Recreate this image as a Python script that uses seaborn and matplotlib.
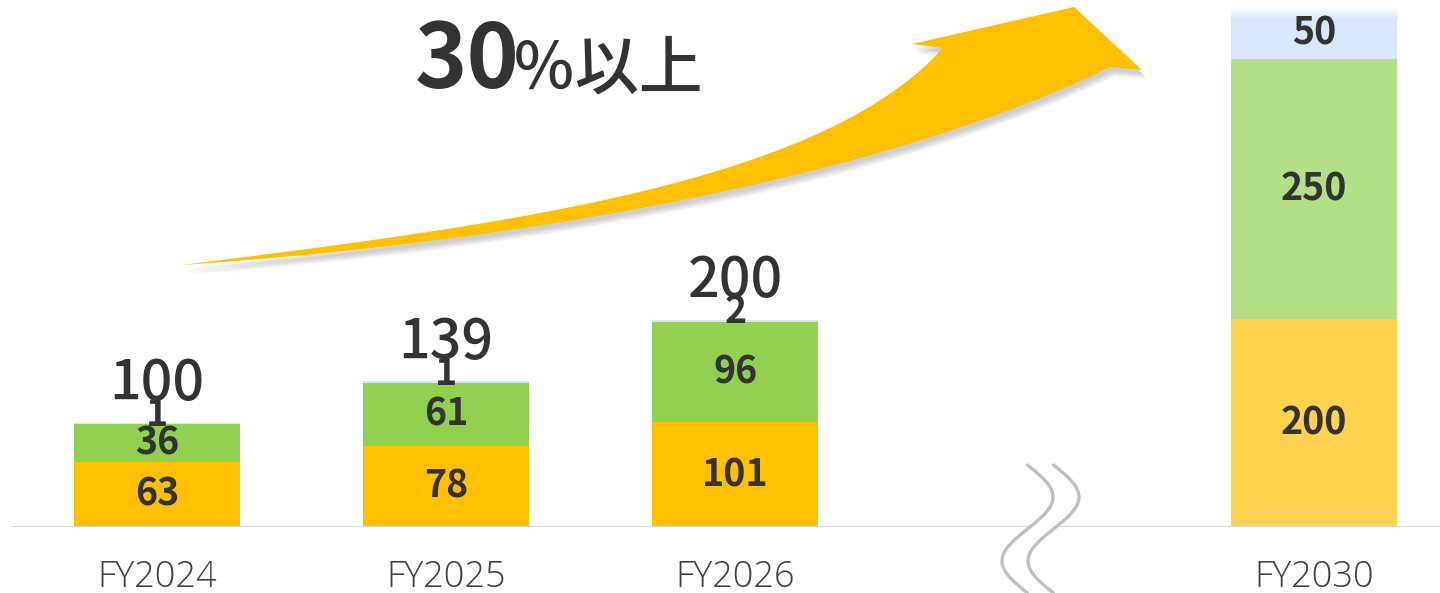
import numpy as np
import pandas as pd
import matplotlib
matplotlib.use("Agg")
from matplotlib import pyplot as plt
from matplotlib.patches import Polygon
import seaborn as sns

# data ###############################################################
years = ["FY2024", "FY2025", "FY2026", "FY2030"]
order = ["FY2024", "FY2025", "FY2026", "", "FY2030"]
base = [63, 78, 101, 200]      # yellow / orange part
mid = [36, 61, 96, 250]        # green part
top = [1, 1, 2, 50]            # light blue part
totals = ["100", "139", "200", None]

orange_cols = ["#FFC000", "#FFC000", "#FFC000", "#FFD34F"]
green_cols = ["#92D050", "#92D050", "#92D050", "#B3DF86"]
blue_cols = ["#DAE3F3", "#DAE3F3", "#DAE3F3", "#DAE6FC"]

df = pd.DataFrame({"year": years, "base": base, "mid": mid, "top": top})
df["c1"] = df["base"]
df["c2"] = df["base"] + df["mid"]
df["c3"] = df["c2"] + df["top"]

sns.set_theme(style="white")
plt.rcParams["font.family"] = ["Noto Sans CJK JP", "DejaVu Sans"]

W, H = 1440, 593
fig = plt.figure(figsize=(W / 100, H / 100), dpi=100)
ax = fig.add_axes([0, 66 / H, 1, 527 / H])

bw = 0.574
# stacked by drawing the cumulative heights back to front
for col, cols in [("c3", blue_cols), ("c2", green_cols), ("c1", orange_cols)]:
    sns.barplot(data=df, x="year", y=col, hue="year", order=order,
                palette=dict(zip(years, cols)), width=bw, saturation=1,
                linewidth=0, errorbar=None, legend=False, ax=ax)

for s in ax.spines.values():
    s.set_visible(False)
ax.set_ylabel("")
ax.set_xlabel("")
ax.set_yticks([])
ax.tick_params(axis="x", length=0, pad=23, labelcolor="#404040")
for lab in ax.get_xticklabels():
    lab.set_fontfamily(["Open Sans", "DejaVu Sans"])
    lab.set_fontweight("light")
    lab.set_fontsize(26)
ax.axhline(0, xmin=12 / W, xmax=1, color="#D9D9D9", lw=1.6, zorder=1)

# fade the top of the FY2030 bar to white
xi = order.index("FY2030")
c3 = df["c3"].iloc[-1]
grad = np.linspace(0, 1, 50)[:, None]
blue = np.array(matplotlib.colors.to_rgb(blue_cols[-1]))
img = blue[None, None, :] * (1 - grad[:, :, None]) + np.ones(3)[None, None, :] * grad[:, :, None]
ax.imshow(img, extent=(xi - bw / 2, xi + bw / 2, c3 - 12, c3), origin="lower",
          aspect="auto", zorder=3)
ax.set_xlim(-0.543, 4.436)
ax.set_ylim(0, 507)

# labels ##############################################################
tc = "#333333"
for i, r in df.iterrows():
    x = order.index(r["year"])
    ax.text(x, r["base"] / 2, f"{r['base']}", ha="center", va="center",
            fontsize=27, fontweight="bold", color=tc, zorder=5)
    ax.text(x, r["base"] + r["mid"] / 2, f"{r['mid']}", ha="center", va="center",
            fontsize=27, fontweight="bold", color=tc, zorder=5)
    if r["top"] > 10:
        ax.text(x, r["c2"] + r["top"] / 2, f"{r['top']}", ha="center", va="center",
                fontsize=27, fontweight="bold", color=tc, zorder=5)
    else:
        ax.text(x, r["c3"] + 8, f"{r['top']}", ha="center", va="center",
                fontsize=27, fontweight="bold", color=tc, zorder=5)
    if totals[i]:
        ax.text(x, r["c3"] + 22, totals[i], ha="center", va="baseline",
                fontsize=40, fontweight="medium", color=tc, zorder=5)

# overlay: arrow, title, axis break ###################################
ov = fig.add_axes([0, 0, 1, 1], zorder=10)
ov.set_xlim(0, W)
ov.set_ylim(H, 0)
ov.axis("off")
ov.patch.set_alpha(0)


def bez(p0, p1, p2, p3, n=80):
    t = np.linspace(0, 1, n)[:, None]
    p0, p1, p2, p3 = map(np.array, (p0, p1, p2, p3))
    return (1 - t) ** 3 * p0 + 3 * (1 - t) ** 2 * t * p1 + 3 * (1 - t) * t ** 2 * p2 + t ** 3 * p3


upper = bez((182, 265), (500, 225), (820, 185), (943, 48))
lower = bez((182, 265), (550, 240), (900, 170), (1110, 67))
head = np.array([(943, 48), (912, 44), (1074, 7), (1142, 70), (1110, 67)])
arrow = np.vstack([upper, head[1:], lower[::-1]])

for k in range(6):
    ov.add_patch(Polygon(arrow + np.array([2 + k * 0.6, 4 + k * 1.0]), closed=True,
                         fc="#7f7f7f", ec="none", alpha=0.07))
ov.add_patch(Polygon(arrow, closed=True, fc="#FFC000", ec="none"))

ov.text(415, 88, "30", ha="left", va="baseline", fontsize=64,
        fontweight="bold", color=tc)
ov.text(512, 88, "％以上", ha="left", va="baseline", fontsize=46,
        fontweight="medium", color=tc)

yy = np.linspace(465, 593, 200)
xl = 1027.5 + 25.5 * np.sin(2 * np.pi * (yy - 465) / 128)
xr = xl + 26
ov.fill_betweenx(yy, xl, xr, color="white", lw=0)
ov.plot(xl, yy, color="#BFBFBF", lw=2.4, solid_capstyle="round")
ov.plot(xr, yy, color="#BFBFBF", lw=2.4, solid_capstyle="round")

fig.savefig("out.png", dpi=100)
